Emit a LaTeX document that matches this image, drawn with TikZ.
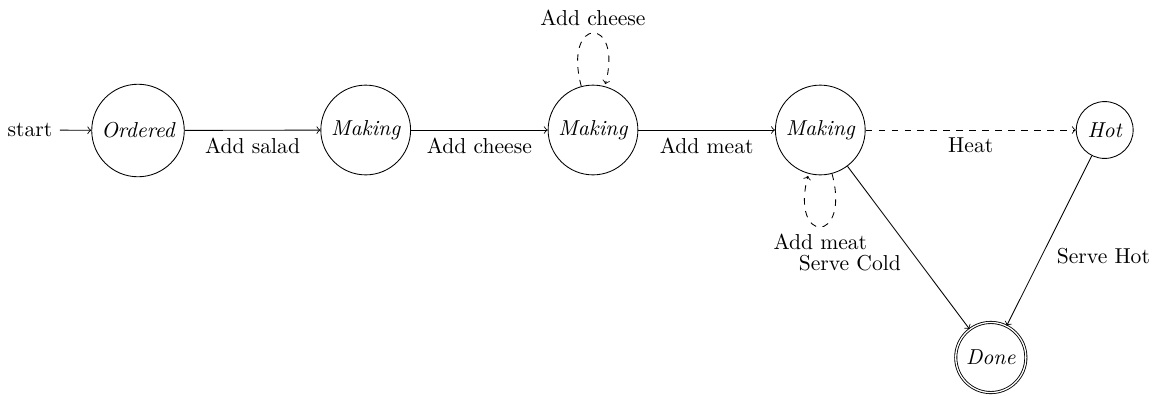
\documentclass[tikz,border=0pt]{standalone}
\begin{document}
\begin{tikzpicture}[x=0.46296pt,y=-0.46296pt,
  statenode/.style={circle,draw,font=\itshape},
  finalnode/.style={statenode,double},
  trans/.style={->},
  optional/.style={->,dashed}]
\useasboundingbox (0,0) rectangle (1157,395);
% states
\node[statenode] (ordered) at (138,130.5) {Ordered};
\node[statenode] (mk1) at (365.7,130) {Making};
\node[statenode] (mk2) at (593,130) {Making};
\node[statenode] (mk3) at (820.3,130) {Making};
\node[statenode] (hot) at (1104.7,130) {Hot};
\node[finalnode] (done) at (990.8,357.5) {Done};
\node (start) at (30,130) {start};
% transitions
\draw[trans] (start) -- (ordered);
\draw[trans] (ordered) -- node[below] {Add salad} (mk1);
\draw[trans] (mk1) -- node[below] {Add cheese} (mk2);
\draw[trans] (mk2) -- node[below] {Add meat} (mk3);
\draw[optional] (mk3) -- node[below] {Heat} (hot);
\path (mk2) edge[optional,loop above] node {Add cheese} ();
\path (mk3) edge[optional,loop below] node {Add meat} ();
\draw[trans] (mk3) -- node[below left] {Serve Cold} (done);
\draw[trans] (hot) -- node[below right] {Serve Hot} (done);
\end{tikzpicture}
\end{document}
